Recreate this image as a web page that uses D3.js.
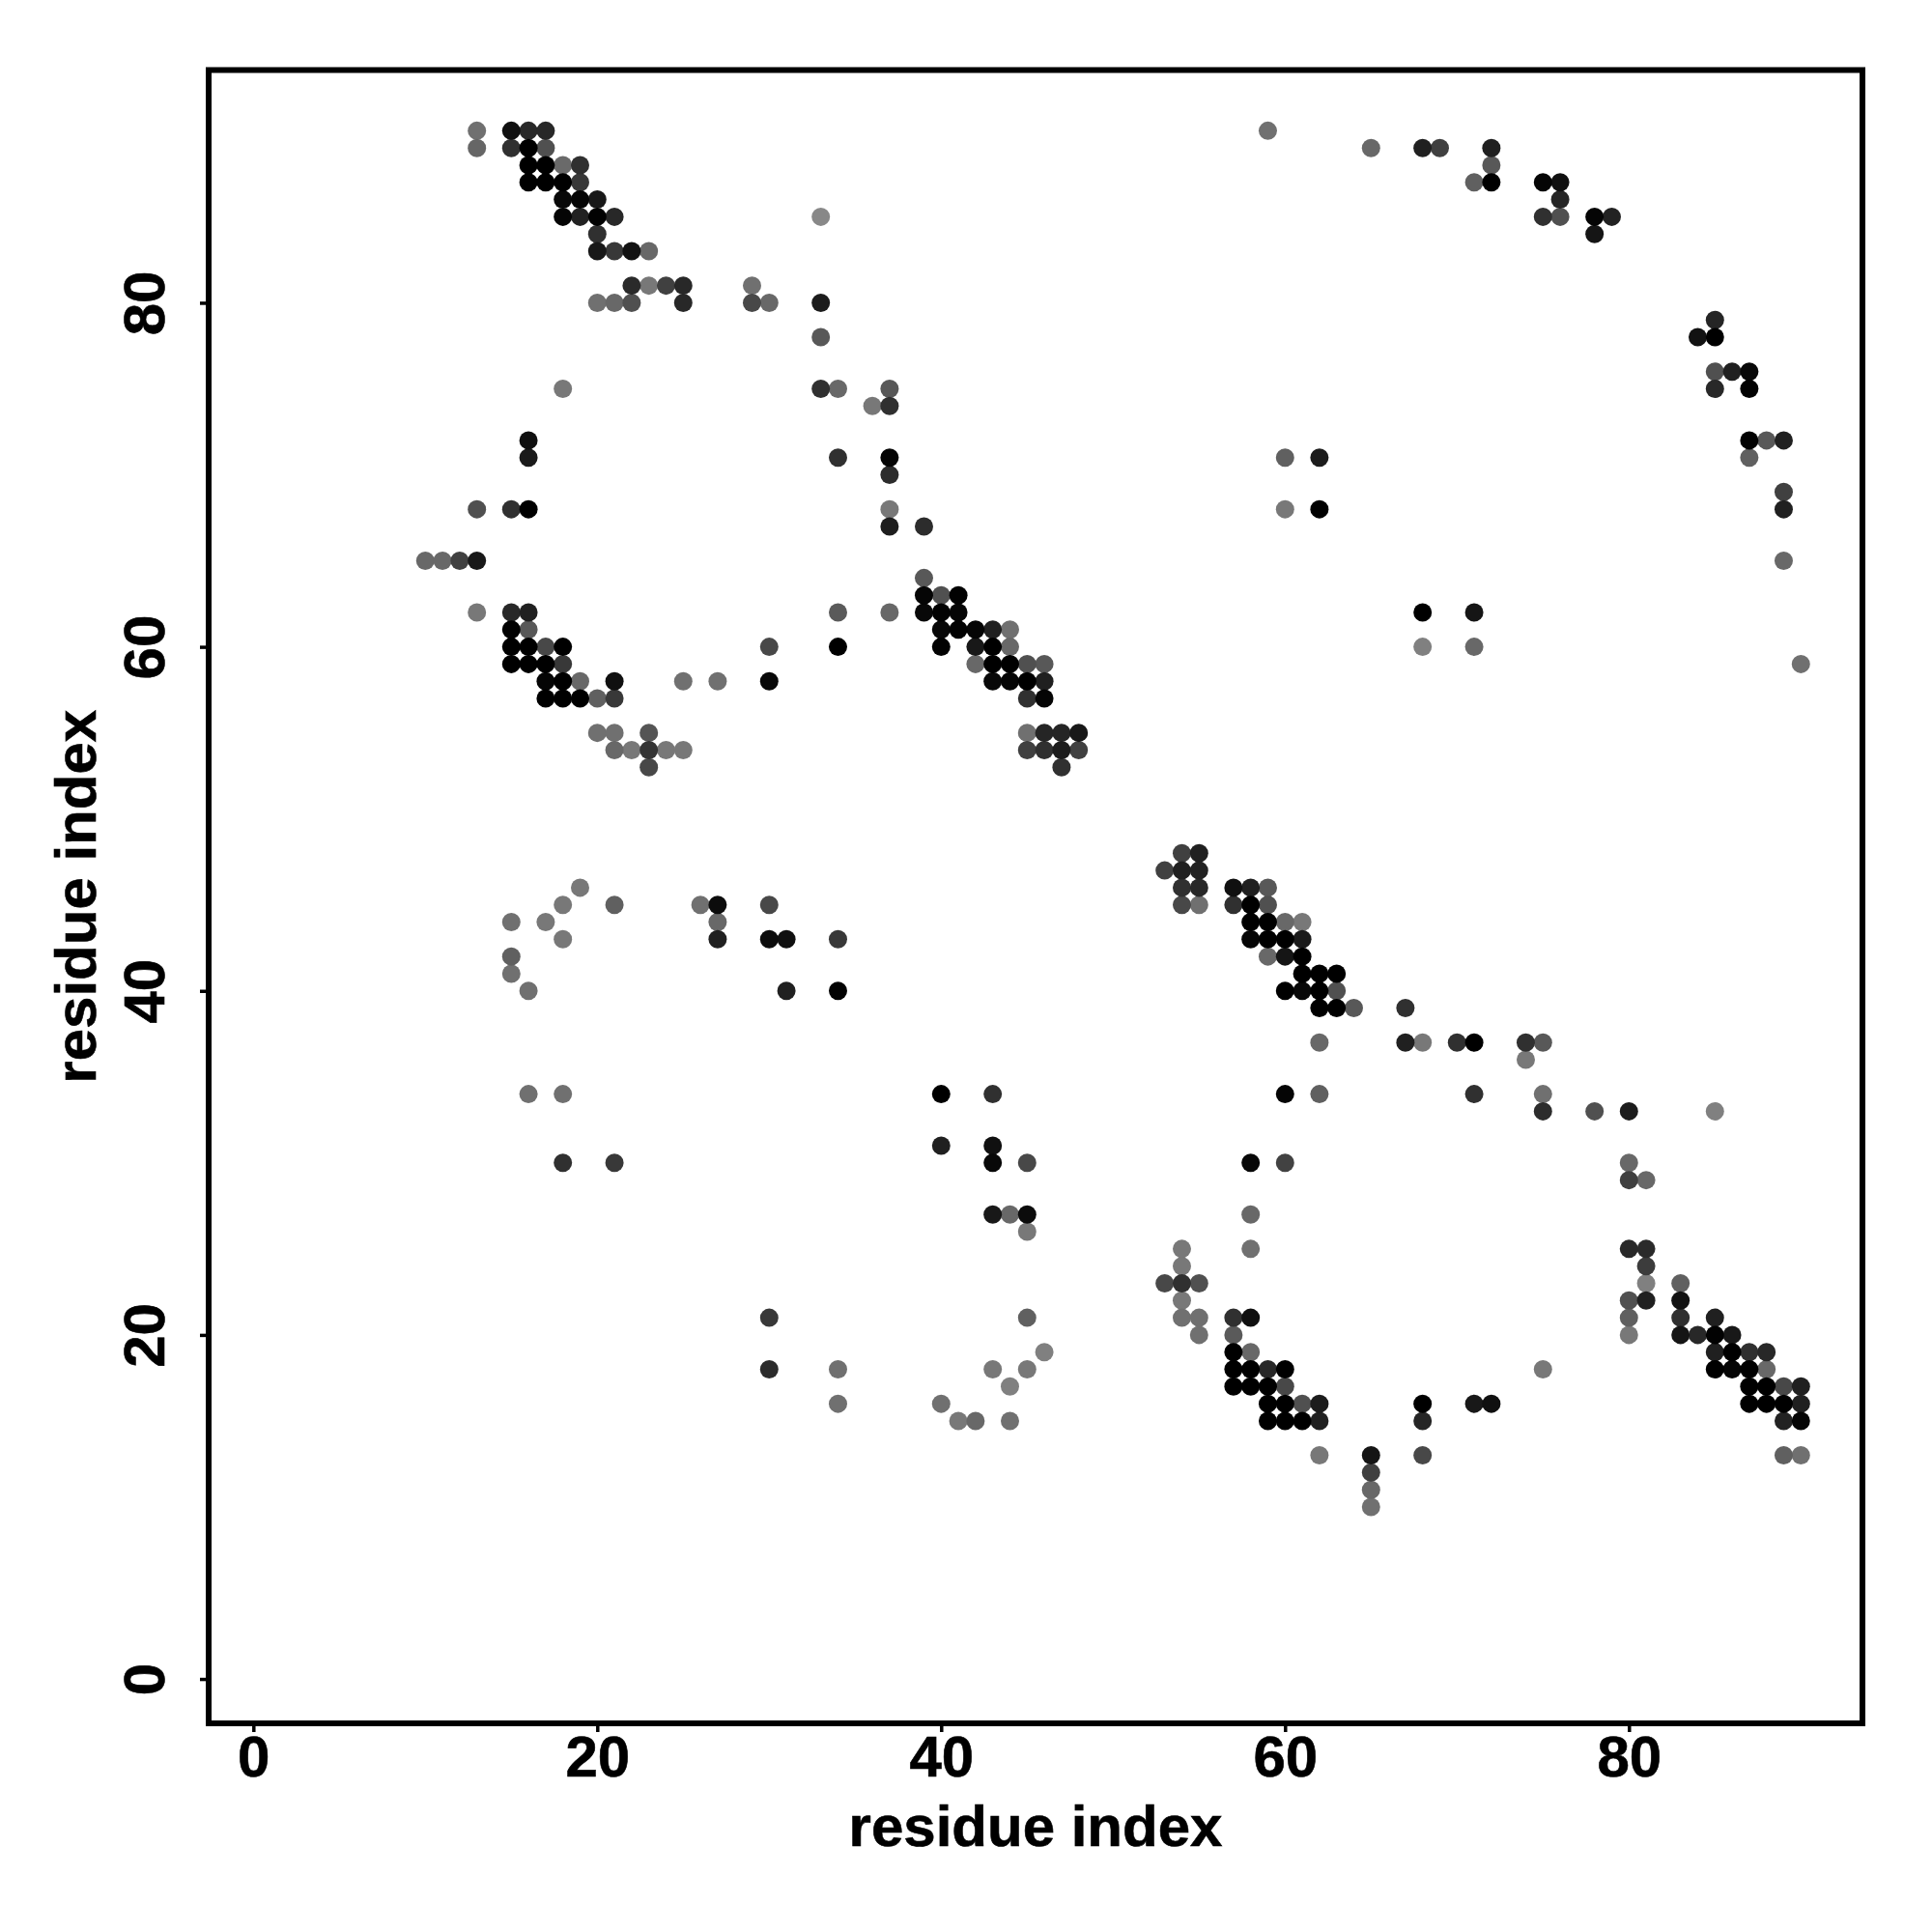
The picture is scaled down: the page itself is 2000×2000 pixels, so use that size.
<!DOCTYPE html>
<html>
<head>
<meta charset="utf-8">
<script src="https://cdn.jsdelivr.net/npm/d3@7/dist/d3.min.js"></script>
<style>
html,body{margin:0;padding:0;background:#fff}
svg{display:block}
text{font-family:"Liberation Sans",Arial,sans-serif;font-weight:700;fill:#000;stroke:#000;stroke-width:0.6px}
</style>
</head>
<body>
<svg id="chart" width="2000" height="2000"></svg>
<script>
const xTickValues = [0, 20, 40, 60, 80];
const yTickValues = [0, 20, 40, 60, 80];
const xTitle = "residue index";
const yTitle = "residue index";

// One entry per row: the row's residue index, the partner residues, and each contact's grey level.
const rowIndex = [90,89,88,87,86,85,84,83,81,80,79,78,76,75,74,72,71,70,69,68,67,65,64,63,62,61,60,59,58,57,55,54,53,48,47,46,45,44,43,42,41,40,39,37,36,34,33,31,30,29,27,26,25,24,23,22,21,20,19,18,17,16,15,13,12,11,10];
const partners = [
[13,15,16,17,59],
[13,15,16,17,65,68,69,72],
[16,17,18,19,72],
[16,17,18,19,71,72,75,76],
[18,19,20,76],
[18,19,20,21,33,75,76,78,79],
[20,78],
[20,21,22,23],
[22,23,24,25,29],
[20,21,22,25,29,30,33],
[85],
[33,84,85],
[85,86,87],
[18,33,34,37,85,87],
[36,37],
[16,87,88,89],
[16,34,37,60,62,87],
[37],
[89],
[13,15,16,37,60,62,89],
[37,39],
[10,11,12,13,89],
[39],
[39,40,41],
[13,15,16,34,37,39,40,41,68,71],
[15,16,40,41,42,43,44],
[15,16,17,18,30,34,40,42,43,44,68,71],
[15,16,17,18,42,43,44,45,46,90],
[17,18,19,21,25,27,30,43,44,45,46],
[17,18,19,20,21,45,46],
[20,21,23,45,46,47,48],
[21,22,23,24,25,45,46,47,48],
[23,47],
[54,55],
[53,54,55],
[19,54,55,57,58,59],
[18,21,26,27,30,54,55,57,58,59],
[15,17,27,58,59,60,61],
[18,27,30,31,34,58,59,60,61],
[15,59,60,61],
[15,61,62,63],
[16,31,34,60,61,62,63],
[62,63,64,67],
[62,67,68,70,71,74,75],
[74],
[16,18,40,43,60,62,71,75],
[75,78,80,85],
[40,43],
[18,21,43,45,58,60,80],
[80,81],
[43,44,45,58],
[45],
[54,58,80,81],
[54,81],
[53,54,55,81,83],
[54,80,81,83],
[30,45,54,55,57,58,80,83,85],
[55,57,80,83,84,85,86],
[46,57,58,85,86,87,88],
[30,34,43,45,57,58,59,60,75,85,86,87,88],
[44,57,58,59,60,87,88,89,90],
[34,40,59,60,61,62,68,71,72,87,88,89,90],
[41,42,44,59,60,61,62,68,89,90],
[62,65,68,89,90],
[65],
[65],
[65]
];
const greys = [
[0x70,0x10,0x28,0x28,0x70],
[0x66,0x30,0x00,0x50,0x68,0x20,0x40,0x20],
[0x00,0x00,0x6a,0x30,0x58],
[0x00,0x00,0x00,0x38,0x60,0x00,0x05,0x10],
[0x08,0x05,0x18,0x25],
[0x05,0x22,0x02,0x28,0x88,0x30,0x50,0x05,0x22],
[0x30,0x15],
[0x18,0x38,0x12,0x68],
[0x2a,0x78,0x40,0x28,0x70],
[0x70,0x68,0x50,0x28,0x48,0x68,0x1c],
[0x25],
[0x58,0x12,0x00],
[0x50,0x20,0x08],
[0x78,0x30,0x68,0x58,0x28,0x02],
[0x78,0x30],
[0x10,0x02,0x58,0x20],
[0x1a,0x30,0x05,0x60,0x1c,0x60],
[0x2c],
[0x40],
[0x50,0x30,0x00,0x78,0x78,0x00,0x20],
[0x1e,0x2c],
[0x68,0x68,0x40,0x18,0x68],
[0x58],
[0x05,0x50,0x02],
[0x78,0x28,0x20,0x5a,0x68,0x08,0x02,0x05,0x00,0x15],
[0x02,0x58,0x08,0x02,0x05,0x20,0x70],
[0x00,0x00,0x48,0x00,0x48,0x00,0x02,0x18,0x00,0x68,0x80,0x68],
[0x00,0x00,0x00,0x38,0x68,0x00,0x00,0x50,0x58,0x70],
[0x05,0x00,0x68,0x10,0x70,0x70,0x08,0x08,0x05,0x00,0x20],
[0x00,0x00,0x00,0x60,0x38,0x30,0x05],
[0x70,0x70,0x55,0x70,0x25,0x25,0x18],
[0x68,0x78,0x35,0x78,0x78,0x40,0x30,0x1c,0x40],
[0x48,0x30],
[0x40,0x20],
[0x40,0x20,0x22],
[0x78,0x30,0x28,0x10,0x20,0x58],
[0x78,0x60,0x70,0x0c,0x48,0x48,0x70,0x30,0x00,0x50],
[0x70,0x78,0x68,0x00,0x00,0x68,0x78],
[0x78,0x20,0x0c,0x10,0x38,0x05,0x00,0x00,0x1a],
[0x60,0x68,0x15,0x00],
[0x70,0x00,0x00,0x00],
[0x70,0x20,0x02,0x00,0x08,0x00,0x50],
[0x00,0x00,0x58,0x30],
[0x68,0x20,0x78,0x30,0x00,0x30,0x58],
[0x78],
[0x70,0x70,0x00,0x30,0x05,0x60,0x30,0x70],
[0x2c,0x50,0x1c,0x80],
[0x20,0x10],
[0x30,0x38,0x08,0x48,0x08,0x42,0x68],
[0x40,0x68],
[0x18,0x68,0x0c,0x68],
[0x78],
[0x78,0x70,0x28,0x2a],
[0x78,0x3c],
[0x48,0x30,0x50,0x80,0x60],
[0x78,0x50,0x20,0x12],
[0x38,0x60,0x70,0x70,0x30,0x10,0x60,0x30,0x20],
[0x70,0x5a,0x78,0x15,0x28,0x02,0x18],
[0x80,0x00,0x68,0x20,0x00,0x30,0x28],
[0x2c,0x70,0x78,0x78,0x00,0x00,0x28,0x00,0x78,0x00,0x05,0x00,0x68],
[0x80,0x00,0x00,0x00,0x48,0x00,0x00,0x48,0x20],
[0x70,0x70,0x00,0x00,0x50,0x1c,0x00,0x18,0x10,0x00,0x00,0x00,0x20],
[0x78,0x68,0x70,0x00,0x00,0x00,0x20,0x25,0x22,0x05],
[0x78,0x15,0x48,0x60,0x70],
[0x40],
[0x68],
[0x70]
];

const box = {left: 216, right: 1928, top: 72.5, bottom: 1784};
const dotRadius = 9.5;

const x = d3.scaleLinear().domain([-2.601, 93.58]).range([box.left, box.right]);
const y = d3.scaleLinear().domain([-2.58, 93.53]).range([box.bottom, box.top]);

const contacts = rowIndex.flatMap((row, r) =>
  partners[r].map((col, c) => ({row, col, grey: greys[r][c]})));
contacts.sort((a, b) => b.grey - a.grey);

const svg = d3.select("#chart");

svg.append("g").selectAll("circle").data(contacts).join("circle")
  .attr("cx", d => x(d.col))
  .attr("cy", d => y(d.row))
  .attr("r", dotRadius)
  .attr("fill", d => d3.rgb(d.grey, d.grey, d.grey).formatHex());

const gx = svg.append("g").attr("transform", `translate(0,${box.bottom})`)
  .call(d3.axisBottom(x).tickValues(xTickValues).tickSize(9).tickSizeOuter(0).tickFormat(d3.format("d")));
gx.select(".domain").remove();
gx.selectAll("line").attr("stroke", "#000").attr("stroke-width", 3.5);
gx.selectAll("text").attr("y", 55).attr("dy", 0).style("font-size", "60px").attr("text-anchor", "middle");

const gy = svg.append("g").attr("transform", `translate(${box.left},0)`)
  .call(d3.axisLeft(y).tickValues(yTickValues).tickSize(9).tickSizeOuter(0).tickFormat(d3.format("d")));
gy.select(".domain").remove();
gy.selectAll("line").attr("stroke", "#000").attr("stroke-width", 3.5);
gy.selectAll("text")
  .attr("x", 0).attr("y", 0).attr("dy", 0)
  .attr("text-anchor", "middle")
  .attr("transform", "translate(-46,0) rotate(-90)")
  .style("font-size", "60px");

svg.append("rect")
  .attr("x", box.left).attr("y", box.top)
  .attr("width", box.right - box.left).attr("height", box.bottom - box.top)
  .attr("fill", "none").attr("stroke", "#000").attr("stroke-width", 6);

svg.append("text")
  .attr("x", (box.left + box.right) / 2).attr("y", 1911)
  .attr("text-anchor", "middle").style("font-size", "60px").text(xTitle);
svg.append("text")
  .attr("transform", `translate(99,${(box.top + box.bottom) / 2}) rotate(-90)`)
  .attr("text-anchor", "middle").style("font-size", "60px").text(yTitle);
</script>
</body>
</html>
